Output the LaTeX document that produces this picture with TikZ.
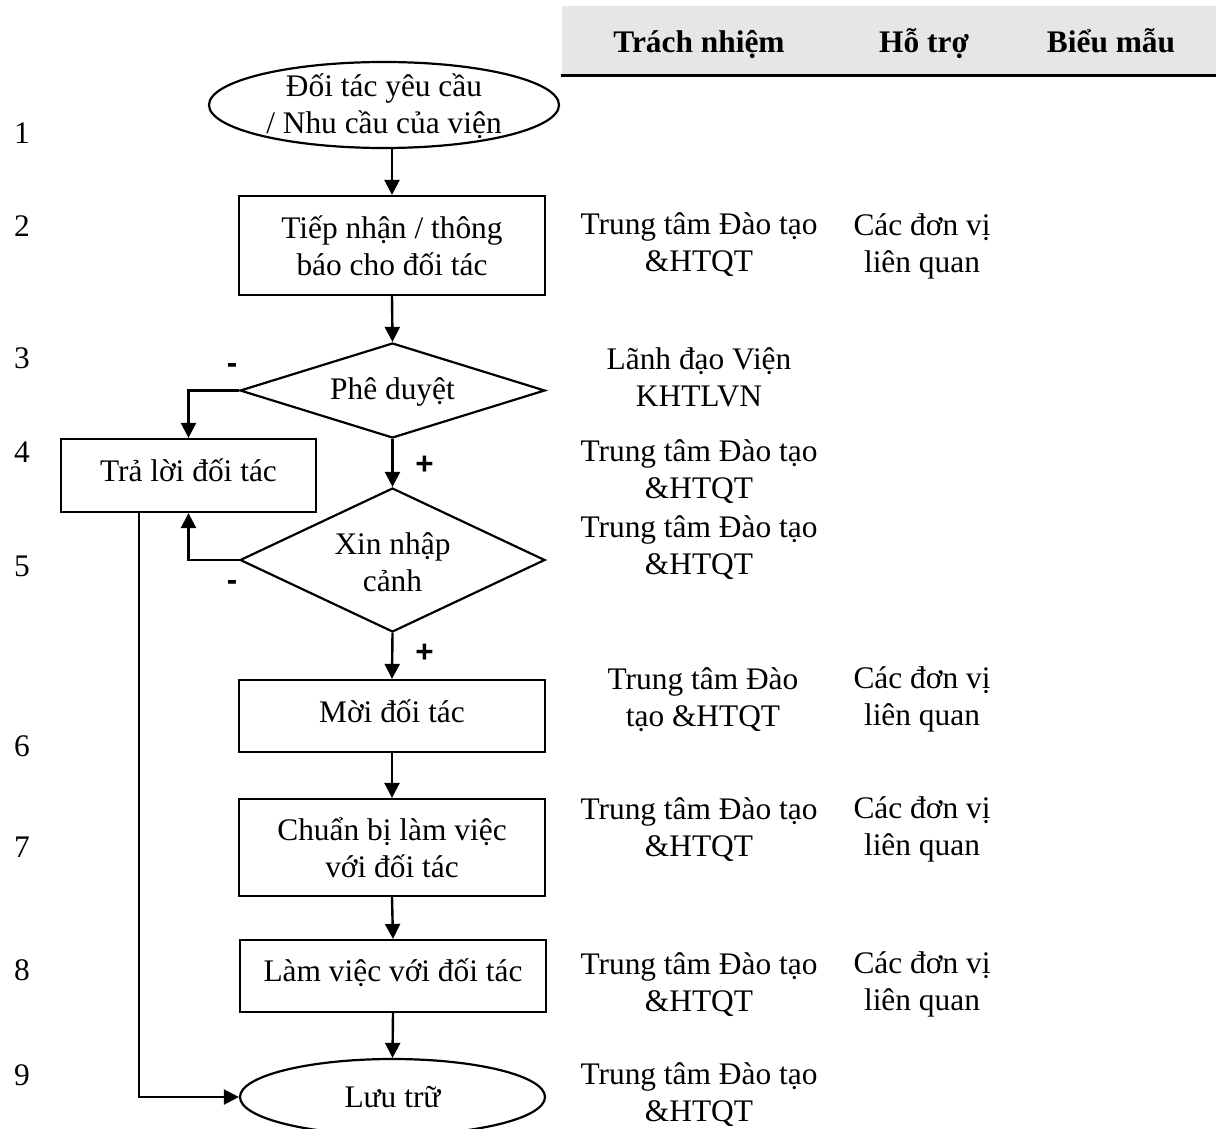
\documentclass[tikz,border=0pt]{standalone}
\usepackage{fontspec}
\setmainfont{Liberation Serif}
\setsansfont{Liberation Sans}
\usetikzlibrary{shapes.geometric,arrows.meta}
\definecolor{headgray}{HTML}{E6E6E6}
\begin{document}
\begin{tikzpicture}[x=1pt,y=-1pt,
  every node/.style={font=\fontsize{31.4}{37}\selectfont, inner sep=0pt},
  shapeline/.style={draw, line width=2.2pt},
  boxnode/.style={shapeline, rectangle},
  ellnode/.style={shapeline, ellipse},
  dianode/.style={shapeline, diamond},
  txt/.style={align=center},
  headtxt/.style={font=\fontsize{31.4}{37}\selectfont\bfseries, anchor=base},
  flow/.style={line width=2.4pt, -{Triangle[length=15pt,width=15pt]}},
  sign/.style={font=\fontsize{31.4}{37}\selectfont\sffamily\bfseries}
]
\useasboundingbox (0,0) rectangle (1216,1129);
% header
\fill[headgray] (562,6) rectangle (1216,75);
\draw[line width=3pt] (561,76) -- (1216,76);
\node[headtxt] (h1) at (699,53) {Trách nhiệm};
\node[headtxt] (h2) at (924,53) {Hỗ trợ};
\node[headtxt] (h3) at (1111,53) {Biểu mẫu};

% row numbers
\node (n1) at (22,133) {1};
\node (n2) at (22,226) {2};
\node (n3) at (22,358) {3};
\node (n4) at (22,452) {4};
\node (n5) at (22,566) {5};
\node (n6) at (22,746) {6};
\node (n7) at (22,847) {7};
\node (n8) at (22,970) {8};
\node (n9) at (22,1075) {9};

% shapes
\node[ellnode, minimum width=350pt, minimum height=86pt] (e1) at (384,105) {};
\node[txt] (t1) at (384,106) {Đối tác yêu cầu\\/ Nhu cầu của viện};
\node[boxnode, minimum width=306pt, minimum height=99pt] (b2) at (392,245.5) {};
\node[txt] (t2) at (b2) {Tiếp nhận / thông\\báo cho đối tác};
\node[dianode, minimum width=305pt, minimum height=95pt] (d3) at (392.5,390.5) {};
\node[txt] (t3) at (392.5,391.5) {Phê duyệt};
\node[boxnode, minimum width=255pt, minimum height=73pt] (b4) at (188.5,475.5) {};
\node[txt] (t4) at (188.5,470) {Trả lời đối tác};
\node[dianode, minimum width=305pt, minimum height=144pt] (d5) at (392.5,560) {};
\node[txt] (t5) at (392.5,562) {Xin nhập\\cảnh};
\node[boxnode, minimum width=306pt, minimum height=72pt] (b6) at (392,716) {};
\node[txt] (t6) at (392,711) {Mời đối tác};
\node[boxnode, minimum width=306pt, minimum height=97pt] (b7) at (392,847.5) {};
\node[txt] (t7) at (b7) {Chuẩn bị làm việc\\với đối tác};
\node[boxnode, minimum width=306pt, minimum height=72pt] (b8) at (393,976) {};
\node[txt] (t8) at (393,973) {Làm việc với đối tác};
\node[ellnode, minimum width=305pt, minimum height=76pt] (e9) at (392.5,1097) {};
\node[txt] (t9) at (e9) {Lưu trữ};

% connectors
\draw[flow] (b2.north |- e1.south) -- (b2.north);
\draw[flow] (b2.south) -- (d3.north);
\draw[flow] (d3.south) -- (d5.north);
\draw[flow] (d5.south) -- (b6.north);
\draw[flow] (b6.south) -- (b7.north);
\draw[flow] (b7.south) -- (b8.north);
\draw[flow] (b8.south) -- (e9.north);
\draw[flow] (d3.west) -| (b4.north);
\draw[flow] (d5.west) -| (b4.south);
\coordinate (c9) at (139,1097);
\draw[flow] (b4.south -| c9) |- (e9.west);

% signs
\node[sign] (m1) at (232,368) {-};
\node[sign] (m2) at (232,585) {-};
\node[sign] (p1) at (424.5,465) {+};
\node[sign] (p2) at (424.5,653) {+};

% responsibility column
\node[txt] (r2) at (699,245) {Trung tâm Đào tạo\\\&HTQT};
\node[txt] (r3) at (699,377) {Lãnh đạo Viện\\KHTLVN};
\node[txt] (r4) at (699,472) {Trung tâm Đào tạo\\\&HTQT};
\node[txt] (r5) at (699,548) {Trung tâm Đào tạo\\\&HTQT};
\node[txt] (r6) at (703,700) {Trung tâm Đào\\tạo \&HTQT};
\node[txt] (r7) at (699,830) {Trung tâm Đào tạo\\\&HTQT};
\node[txt] (r8) at (699,985) {Trung tâm Đào tạo\\\&HTQT};
\node[txt] (r9) at (699,1095) {Trung tâm Đào tạo\\\&HTQT};

% support column
\node[txt] (s2) at (922,246) {Các đơn vị\\liên quan};
\node[txt] (s6) at (922,699) {Các đơn vị\\liên quan};
\node[txt] (s7) at (922,829.5) {Các đơn vị\\liên quan};
\node[txt] (s8) at (922,984.5) {Các đơn vị\\liên quan};
\end{tikzpicture}
\end{document}
